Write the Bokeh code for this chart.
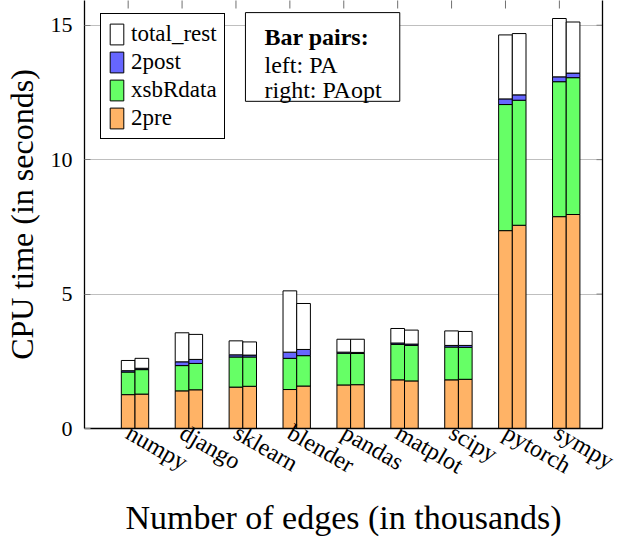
import math
from bokeh.plotting import figure
from bokeh.models import (ColumnDataSource, FixedTicker, LinearAxis, Range1d,
                          Legend, LegendItem, Label, BoxAnnotation)
from bokeh.embed import file_html
from bokeh.resources import INLINE

packages = ["numpy", "django", "sklearn", "blender", "pandas",
            "matplot", "scipy", "pytorch", "sympy"]

# left bar of each pair: PA
pa_2pre      = [1.26, 1.40, 1.54, 1.45, 1.62, 1.81, 1.81, 7.36, 7.88]
pa_xsbRdata  = [0.84, 0.94, 1.12, 1.16, 1.18, 1.32, 1.22, 4.69, 5.02]
pa_2post     = [0.05, 0.14, 0.08, 0.23, 0.04, 0.05, 0.06, 0.21, 0.18]
pa_rest      = [0.38, 1.08, 0.52, 2.28, 0.48, 0.54, 0.54, 2.38, 2.17]

# right bar of each pair: PAopt
opt_2pre     = [1.28, 1.44, 1.57, 1.58, 1.63, 1.77, 1.83, 7.56, 7.96]
opt_xsbRdata = [0.91, 0.98, 1.09, 1.13, 1.16, 1.32, 1.19, 4.65, 5.09]
opt_2post    = [0.05, 0.15, 0.07, 0.23, 0.04, 0.05, 0.07, 0.20, 0.17]
opt_rest     = [0.37, 0.93, 0.49, 1.71, 0.49, 0.52, 0.52, 2.28, 1.90]

y_ticks = [0, 5, 10, 15]
stack_names = ["2pre", "xsbRdata", "2post", "total_rest"]
colors = ["#FFB366", "#66FF66", "#6666FF", "#FFFFFF"]

FONT = "Liberation Serif"
BAR_W = 0.254
X0, X1 = 0.19, 9.80
Y0, Y1 = 0, 15.92

pos = list(range(1, len(packages) + 1))
src_pa = ColumnDataSource(dict(x=pos, **dict(zip(stack_names, [pa_2pre, pa_xsbRdata, pa_2post, pa_rest]))))
src_opt = ColumnDataSource(dict(x=[v + BAR_W for v in pos],
                                **dict(zip(stack_names, [opt_2pre, opt_xsbRdata, opt_2post, opt_rest]))))

p = figure(frame_width=518, frame_height=428,
           x_range=Range1d(X0, X1), y_range=Range1d(Y0, Y1),
           output_backend="svg", toolbar_location=None,
           min_border_left=84, min_border_right=16, min_border_top=0, min_border_bottom=108)
p.outline_line_color = None
p.background_fill_color = "white"

p.xgrid.grid_line_color = None
p.ygrid.ticker = FixedTicker(ticks=y_ticks)
p.ygrid.grid_line_color = "#bfbfbf"
p.ygrid.grid_line_width = 1

r_pa = p.vbar_stack(stack_names, x="x", width=BAR_W, source=src_pa, color=colors,
                    line_color="black", line_width=1)
r_opt = p.vbar_stack(stack_names, x="x", width=BAR_W, source=src_opt, color=colors,
                     line_color="black", line_width=1)

# mirrored tick marks on top and right frame edges (half of each dash is clipped)
p.scatter(x=pos, y=[Y1] * len(pos), marker="dash", angle=math.pi / 2, size=16,
          line_color="#707070", line_width=1)
p.scatter(x=[X1] * len(y_ticks), y=y_ticks, marker="dash", size=12,
          line_color="#808080", line_width=1)

# axes
xa = p.xaxis[0]
xa.ticker = FixedTicker(ticks=pos)
xa.major_label_overrides = {i: n for i, n in zip(pos, packages)}
xa.major_label_orientation = -0.5236
xa.major_tick_in = 0
xa.major_tick_out = 0
xa.minor_tick_line_color = None
xa.axis_line_color = "black"
xa.axis_line_width = 1.3
xa.major_label_text_font = FONT
xa.major_label_text_font_size = "24px"
xa.major_label_text_color = "black"
xa.major_label_standoff = 2
xa.axis_label = "Number of edges (in thousands)"
xa.axis_label_text_font = FONT
xa.axis_label_text_font_size = "34px"
xa.axis_label_text_font_style = "normal"
xa.axis_label_text_color = "black"
xa.axis_label_standoff = 6

ya = p.yaxis[0]
ya.ticker = FixedTicker(ticks=y_ticks)
ya.major_tick_in = 6
ya.major_tick_out = 0
ya.major_tick_line_color = "#808080"
ya.minor_tick_line_color = None
ya.axis_line_color = "black"
ya.axis_line_width = 1.3
ya.major_label_text_font = FONT
ya.major_label_text_font_size = "22px"
ya.major_label_text_color = "black"
ya.major_label_standoff = 12
ya.axis_label = "CPU time (in seconds)"
ya.axis_label_text_font = FONT
ya.axis_label_text_font_size = "32px"
ya.axis_label_text_font_style = "normal"
ya.axis_label_text_color = "black"
ya.axis_label_standoff = 8

ra = LinearAxis(ticker=FixedTicker(ticks=[]), axis_line_color="black", axis_line_width=1.3,
                major_tick_line_color=None, minor_tick_line_color=None)
p.add_layout(ra, "right")

# legend (top to bottom: total_rest, 2post, xsbRdata, 2pre)
items = [LegendItem(label=stack_names[i], renderers=[r_pa[i]]) for i in (3, 2, 1, 0)]
legend = Legend(items=items, location=(16, 289), margin=0, padding=7, spacing=2,
                glyph_width=17, glyph_height=26, label_height=26, label_standoff=6,
                label_text_font=FONT, label_text_font_size="23px", label_text_color="black",
                border_line_color="black", border_line_width=1, border_line_alpha=1,
                background_fill_color="white", background_fill_alpha=1)
p.add_layout(legend)

# "Bar pairs" box
box = BoxAnnotation(left=3.176, right=6.039, top=15.47, bottom=12.17,
                    fill_color="white", fill_alpha=1, line_color="black", line_width=1, line_alpha=1)
p.add_layout(box)
for txt, yv, style in [("Bar pairs:", 14.56, "bold"), ("left: PA", 13.51, "normal"),
                       ("right: PAopt", 12.58, "normal")]:
    p.add_layout(Label(x=3.529, y=yv, text=txt, text_font=FONT, text_font_size="24px",
                       text_font_style=style, text_color="black", text_baseline="alphabetic"))

open("out.html", "w").write(file_html(p, INLINE))
